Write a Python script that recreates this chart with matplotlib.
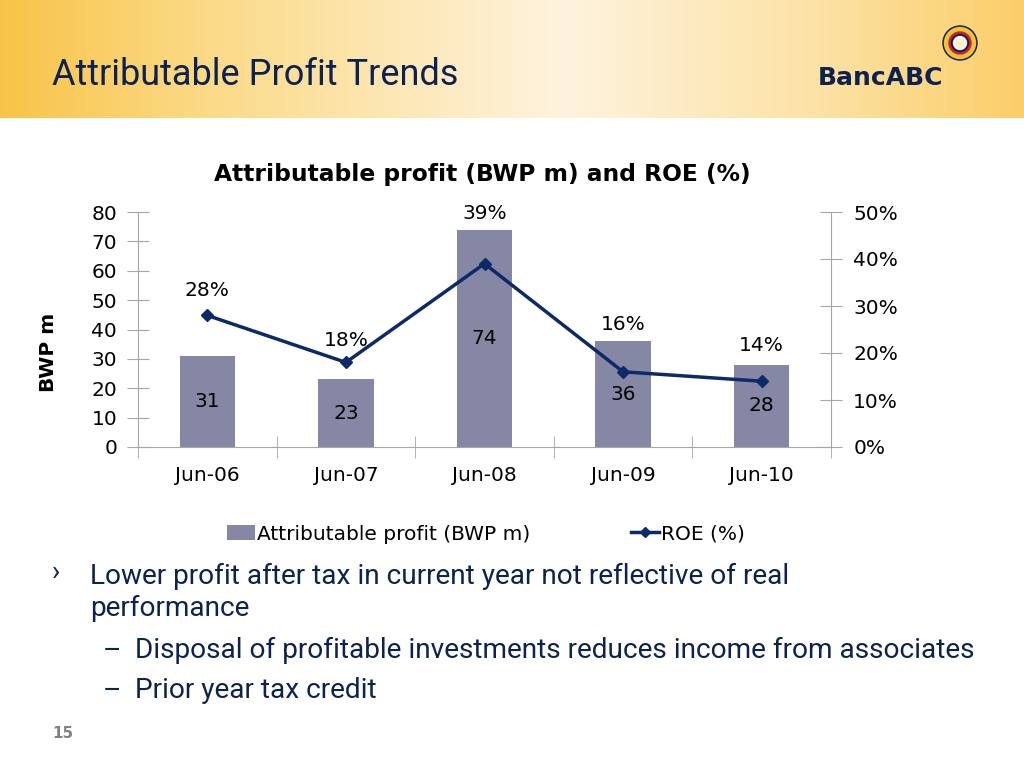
import numpy as np
import matplotlib
matplotlib.use("Agg")
import matplotlib.pyplot as plt
from matplotlib.patches import Circle, Patch
from matplotlib.lines import Line2D

# data
periods = ["Jun-06", "Jun-07", "Jun-08", "Jun-09", "Jun-10"]
profit = [31, 23, 74, 36, 28]          # BWP m
roe = [28, 18, 39, 16, 14]             # %
roe_label_offset = [18, 16, 36, 34, 26]  # points above marker

bar_color = "#8587a5"
line_color = "#0c2a6a"
navy = "#0d2250"
axis_gray = "#a6a6a6"
narrow = ["Roboto", "DejaVu Sans"]

W, H = 1024, 768
fig = plt.figure(figsize=(W / 100, H / 100), dpi=100)
fig.patch.set_facecolor("white")

# header band
hax = fig.add_axes([0, 1 - 118 / H, 1, 118 / H])
stops_x = [0.0, 0.2, 0.55, 0.8, 1.0]
stops_c = np.array([[248, 196, 72], [251, 218, 135], [254, 243, 222],
                    [252, 226, 165], [251, 206, 105]]) / 255
xs = np.linspace(0, 1, 400)
row = np.stack([np.interp(xs, stops_x, stops_c[:, k]) for k in range(3)], axis=1)
band = np.repeat(row[None, :, :], 50, axis=0)
hax.imshow(band, aspect="auto", extent=[0, 1, 0, 1])
hax.set_xlim(0, 1)
hax.set_ylim(0, 1)
hax.axis("off")
fig.text(52 / W, 1 - 75 / H, "Attributable Profit Trends", family=narrow,
         fontsize=26, color=navy, va="center", ha="left")
fig.text(943 / W, 1 - 78 / H, "BancABC", fontsize=18, fontweight="bold",
         color=navy, va="center", ha="right")

# logo rings
lax = fig.add_axes([(960 - 20) / W, 1 - (43 + 20) / H, 40 / W, 40 / H])
lax.set_xlim(-20, 20)
lax.set_ylim(-20, 20)
lax.set_aspect("equal")
lax.axis("off")
for r, c in [(17, navy), (15.5, "#f2c230"), (11, "#c8203a"), (8.5, navy), (6.5, "#fdf0d8")]:
    lax.add_patch(Circle((0, 0), r, color=c))

# chart
ax = fig.add_axes([138 / W, 1 - 447 / H, (831 - 138) / W, (447 - 212) / H])
ax2 = ax.twinx()
x = np.arange(len(periods))
bars = ax.bar(x, profit, width=0.4, color=bar_color, zorder=2)
ax.bar_label(bars, labels=[str(v) for v in profit], label_type="center",
             fontsize=14.5, color="black")

ax.set_xlim(-0.5, len(periods) - 0.5)
ax.set_ylim(0, 80)
ax.set_yticks(range(0, 81, 10))
ax.set_xticks(x)
ax.set_xticklabels(periods)
ax.set_xticks(np.arange(-0.5, len(periods)), minor=True)
ax.tick_params(axis="x", which="major", length=0, pad=14, labelsize=14.5)
ax.tick_params(axis="x", which="minor", length=16, direction="inout", color=axis_gray)
ax.tick_params(axis="y", length=16, direction="inout", color=axis_gray,
               labelsize=14.5, pad=7)
for side in ["top", "right"]:
    ax.spines[side].set_visible(False)
for side in ["left", "bottom"]:
    ax.spines[side].set_color(axis_gray)
ax.set_ylabel("BWP m", fontsize=14.5, fontweight="bold")
ax.yaxis.set_label_coords(-80 / 693, 95 / 235)

ax2.plot(x, roe, color=line_color, lw=2.5, marker="D", markersize=6, zorder=3)
ax2.set_ylim(0, 50)
ax2.set_yticks(range(0, 51, 10))
ax2.set_yticklabels([f"{v}%" for v in range(0, 51, 10)])
ax2.tick_params(axis="y", length=16, direction="inout", color=axis_gray,
                labelsize=14.5, pad=8)
for side in ["top", "left", "bottom"]:
    ax2.spines[side].set_visible(False)
ax2.spines["right"].set_color(axis_gray)
for xi, v, off in zip(x, roe, roe_label_offset):
    ax2.annotate(f"{v}%", (xi, v), xytext=(0, off), textcoords="offset points",
                 ha="center", va="center", fontsize=14.5)

fig.text(482 / W, 1 - 174 / H, "Attributable profit (BWP m) and ROE (%)",
         fontsize=16.8, fontweight="bold", ha="center", va="center")

handles = [Patch(facecolor=bar_color),
           Line2D([], [], color=line_color, lw=2.5, marker="D", markersize=5)]
fig.legend(handles, ["Attributable profit (BWP m)", "ROE (%)"], ncol=2,
           loc="center", bbox_to_anchor=(486 / W, 1 - 534 / H), frameon=False,
           fontsize=14.5, handlelength=1.4, handletextpad=0.1, columnspacing=5.0)

# bullet text
fs = 20.2
fig.text(52 / W, 1 - 572 / H, "\u203a", family=narrow, fontsize=20, color=navy, va="center")
fig.text(90 / W, 1 - 576 / H, "Lower profit after tax in current year not reflective of real",
         family=narrow, fontsize=fs, color=navy, va="center")
fig.text(90 / W, 1 - 608 / H, "performance", family=narrow, fontsize=fs, color=navy, va="center")
fig.text(103 / W, 1 - 652 / H, "\u2013", family=narrow, fontsize=fs, color=navy, va="center")
fig.text(135 / W, 1 - 650 / H, "Disposal of profitable investments reduces income from associates",
         family=narrow, fontsize=fs, color=navy, va="center")
fig.text(103 / W, 1 - 692 / H, "\u2013", family=narrow, fontsize=fs, color=navy, va="center")
fig.text(135 / W, 1 - 690 / H, "Prior year tax credit",
         family=narrow, fontsize=fs, color=navy, va="center")
fig.text(52 / W, 1 - 733 / H, "15", fontsize=11, fontweight="bold", color="#808080", va="center")

fig.savefig("out.png", dpi=100)
